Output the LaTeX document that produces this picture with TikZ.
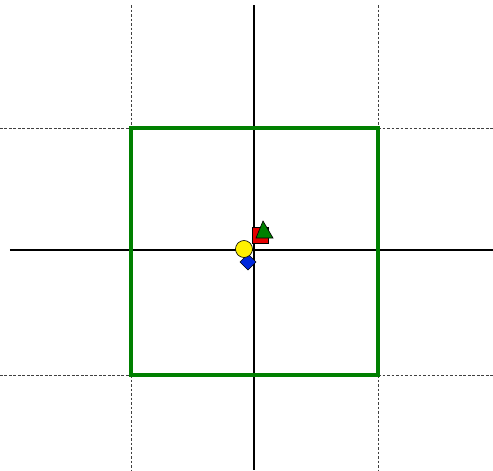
\documentclass[tikz,border=0pt]{standalone}
\usepackage{tikz}
\usetikzlibrary{calc}
\definecolor{boxGreen}{RGB}{0,128,0}
\definecolor{mkRed}{RGB}{230,0,0}
\definecolor{mkYellow}{RGB}{255,240,0}
\definecolor{mkBlue}{RGB}{0,40,220}
\tikzset{
  axis/.style={black, line width=1.1pt},
  guide/.style={black!75, line width=0.6pt, dash pattern=on 1.8pt off 1.4pt},
  frame/.style={boxGreen, line width=2.3pt},
  marker/.style={draw=black, line width=0.45pt},
}

\begin{document}
\begin{tikzpicture}[x=0.025cm, y=-0.025cm]
    % canvas of 493 x 470 px, origin at the axes crossing
    \useasboundingbox (-254,-250) rectangle (239,220);
    % dashed guides
    \draw[guide] (-123,-245) -- (-123,-122);
    \draw[guide] (-123,125) -- (-123,220);
    \draw[guide] (124,-245) -- (124,-122);
    \draw[guide] (124,125) -- (124,220);
    \draw[guide] (-254,-122) -- (-123,-122);
    \draw[guide] (124,-122) -- (239,-122);
    \draw[guide] (-254,125) -- (-123,125);
    \draw[guide] (124,125) -- (239,125);
    % axes
    \draw[axis] (0,-245) -- (0,220);
    \draw[axis] (-244,0) -- (239,0);
    % green box
    \draw[frame] (-123,-122) rectangle (124,125);
    % markers
    \filldraw[marker, fill=mkRed] (-1.5,-23) rectangle (14.5,-7);
    \filldraw[marker, fill=boxGreen] (9,-29) -- (19,-12) -- (2,-12) -- cycle;
    \filldraw[marker, fill=mkBlue] (-6,4) -- (2,12) -- (-6,20) -- (-14,12) -- cycle;
    \filldraw[marker, fill=mkYellow] (-10,-1) circle (8.5);
\end{tikzpicture}
\end{document}
